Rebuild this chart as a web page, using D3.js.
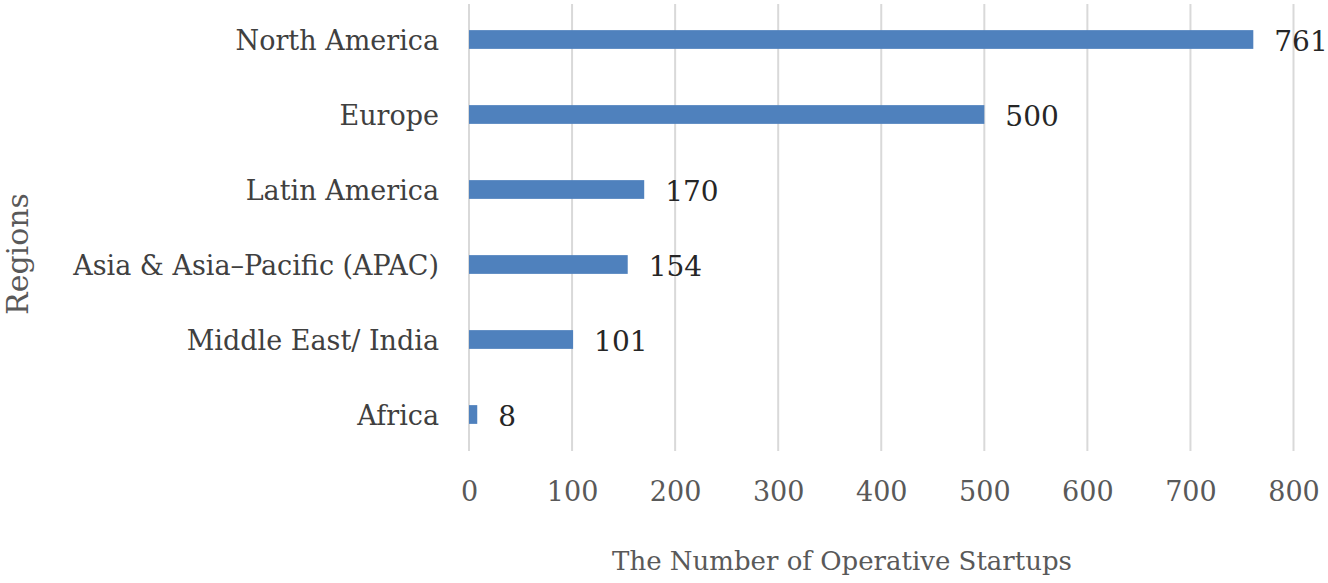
<!DOCTYPE html>
<html>
<head>
<meta charset="utf-8">
<script src="https://cdn.jsdelivr.net/npm/d3@7"></script>
<style>
  html, body { margin: 0; padding: 0; background: #fff; }
  svg { display: block; }
  text { font-family: "DejaVu Serif", "Liberation Serif", serif; }
</style>
</head>
<body>
<svg id="chart" width="1328" height="583"></svg>
<script>
const categories = ["North America", "Europe", "Latin America", "Asia & Asia\u2013Pacific (APAC)", "Middle East/ India", "Africa"];
const values = [761, 500, 170, 154, 101, 8];
const xTicks = [0, 100, 200, 300, 400, 500, 600, 700, 800];
const xTitle = "The Number of Operative Startups";
const yTitle = "Regions";

const data = categories.map((c, i) => ({ cat: c, val: values[i] }));

const FONT = "DejaVu Serif, Liberation Serif, serif";
const FS = 27;

const svg = d3.select("#chart");
const plotLeft = 469, plotRight = 1293.5, plotTop = 2, plotBottom = 452;

const x = d3.scaleLinear().domain([0, 800]).range([plotLeft, plotRight]);
const y = d3.scaleBand().domain(categories).range([plotTop, plotBottom]).paddingInner(0.75).paddingOuter(0.375);

// gridlines
svg.append("g").selectAll("line").data(xTicks).join("line")
  .attr("x1", d => x(d)).attr("x2", d => x(d))
  .attr("y1", 4).attr("y2", 451)
  .attr("stroke", "#d9d9d9").attr("stroke-width", 2);

// bars
svg.append("g").selectAll("rect").data(data).join("rect")
  .attr("x", x(0)).attr("y", d => y(d.cat))
  .attr("width", d => x(d.val) - x(0)).attr("height", y.bandwidth())
  .attr("fill", "#4f81bd");

// value labels
svg.append("g").selectAll("text").data(data).join("text")
  .attr("x", d => x(d.val) + 21).attr("y", d => y(d.cat) + y.bandwidth() / 2)
  .attr("dy", "0.4em")
  .attr("font-size", 28).attr("fill", "#262626")
  .text(d => d.val);

// category labels
const yAxis = d3.axisLeft(y).tickSize(0).tickPadding(30);
const gy = svg.append("g").attr("transform", `translate(${plotLeft},0)`).call(yAxis);
gy.select(".domain").remove();
gy.selectAll("text").attr("font-size", FS).attr("fill", "#404040").attr("dy", "0.38em")
  .attr("font-family", FONT);

// x tick labels
const xAxis = d3.axisBottom(x).tickValues(xTicks).tickSize(0).tickPadding(0).tickFormat(d3.format("d"));
const gx = svg.append("g").attr("transform", `translate(0,480)`).call(xAxis);
gx.select(".domain").remove();
gx.selectAll("text").attr("font-size", FS).attr("fill", "#595959").attr("dy", "0.78em")
  .attr("font-family", FONT);

// axis titles
svg.append("text").attr("x", 842).attr("y", 570).attr("text-anchor", "middle")
  .attr("font-size", 26).attr("fill", "#595959").text(xTitle);

svg.append("text").attr("transform", "translate(28,254) rotate(-90)").attr("text-anchor", "middle")
  .attr("font-size", 30).attr("fill", "#595959").text(yTitle);
</script>
</body>
</html>
